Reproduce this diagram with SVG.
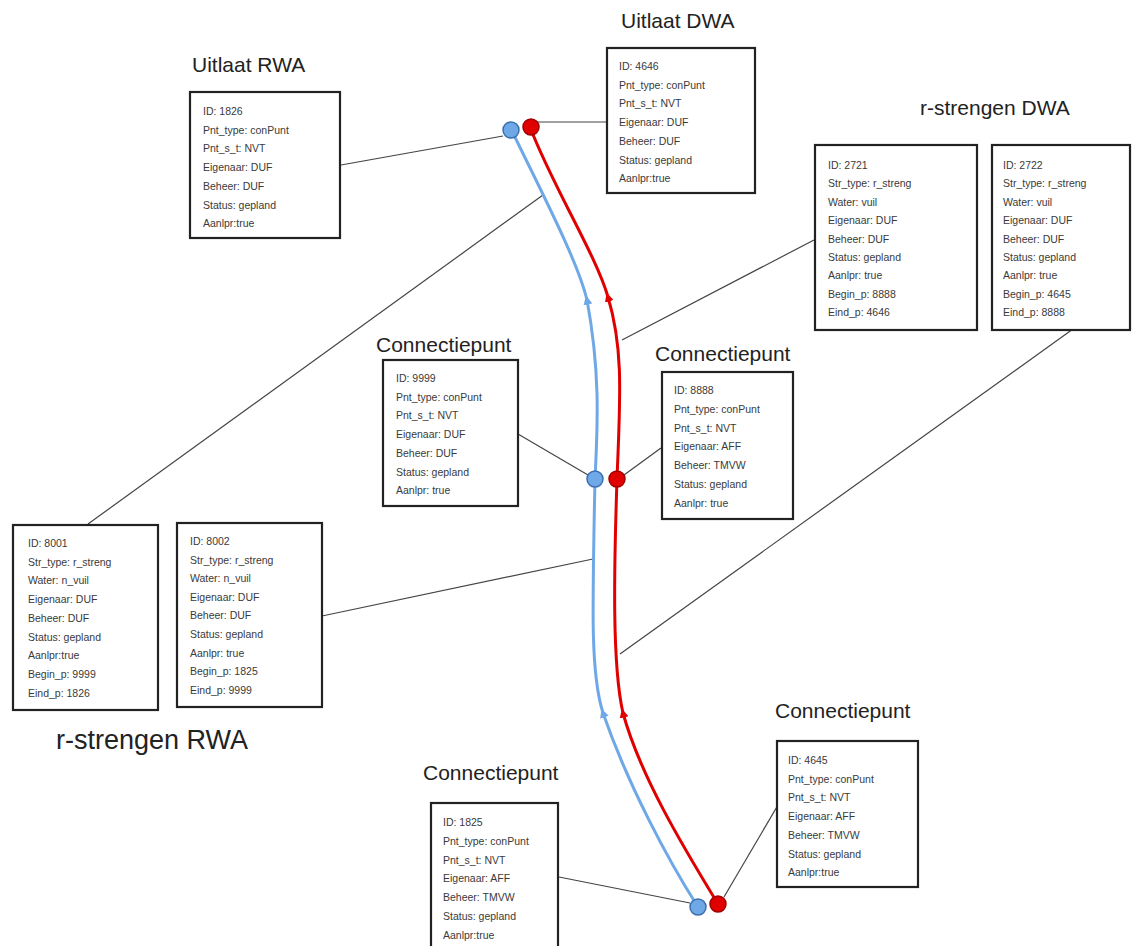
<svg xmlns="http://www.w3.org/2000/svg" width="1137" height="946" viewBox="0 0 1137 946">
<defs>
<style>
.box{fill:#fff;stroke:#222;stroke-width:2.2}
.shadow{fill:none;stroke:#aaa;stroke-width:2}
.t{font-family:"Liberation Sans",Arial,sans-serif;font-size:10.5px;fill:#3a3a3a}
.title{font-family:"Liberation Sans",Arial,sans-serif;font-size:21px;fill:#222}
.big{font-family:"Liberation Sans",Arial,sans-serif;font-size:27px;fill:#222}
.conn{stroke:#444;stroke-width:1.2;fill:none}
.blue{stroke:#6fa8e6;stroke-width:3;fill:none;marker-mid:url(#ab)}
.red{stroke:#e00000;stroke-width:3;fill:none;marker-mid:url(#ar)}
.bdot{fill:#6fa8e6;stroke:#3b6fb0;stroke-width:1.5}
.rdot{fill:#e00000;stroke:#a00000;stroke-width:1.5}
</style>
<marker id="ab" viewBox="0 0 10 10" refX="5" refY="5" markerWidth="9" markerHeight="9" markerUnits="userSpaceOnUse" orient="auto"><path d="M0,0 L10,5 L0,10 z" fill="#6fa8e6"/></marker>
<marker id="ar" viewBox="0 0 10 10" refX="5" refY="5" markerWidth="9" markerHeight="9" markerUnits="userSpaceOnUse" orient="auto"><path d="M0,0 L10,5 L0,10 z" fill="#e00000"/></marker>
</defs>
<rect width="1137" height="946" fill="#fff"/>

<g id="connectors">
<line class="conn" x1="341" y1="165" x2="503" y2="136"/>
<line class="conn" x1="537" y1="122" x2="607" y2="122"/>
<line class="conn" x1="88" y1="524" x2="543" y2="195"/>
<line class="conn" x1="814" y1="240" x2="622" y2="340"/>
<line class="conn" x1="518" y1="434" x2="588" y2="475"/>
<line class="conn" x1="661" y1="448" x2="624" y2="475"/>
<line class="conn" x1="322" y1="616" x2="593" y2="559"/>
<line class="conn" x1="1073" y1="329" x2="620" y2="654"/>
<line class="conn" x1="559" y1="877" x2="690" y2="903"/>
<line class="conn" x1="778" y1="805" x2="724" y2="897"/>
<path class="blue" d="M698,907 C668,860 628,785 603,713 C591,675 592,620 595,479"/>
<path class="blue" d="M595,479 C598,420 600,370 587,300 C578,262 543,195 511,129"/>
<path class="red" d="M718,904 C682,845 640,775 623,713 C612,665 614,570 617,479"/>
<path class="red" d="M617,479 C620,400 624,350 608,297 C596,255 552,185 530,127"/>
</g>

<g id="dots">
<circle class="bdot" cx="511" cy="130" r="8"/>
<circle class="rdot" cx="531" cy="127" r="8"/>
<circle class="bdot" cx="595" cy="479" r="8"/>
<circle class="rdot" cx="617" cy="479" r="8"/>
<circle class="bdot" cx="698" cy="907" r="8"/>
<circle class="rdot" cx="718" cy="904" r="8"/>
</g>

<g id="label-uitlaat-rwa"><text class="title" x="192" y="72">Uitlaat RWA</text></g>
<g id="label-uitlaat-dwa"><text class="title" x="621" y="28">Uitlaat DWA</text></g>
<g id="label-rstrengen-dwa"><text class="title" x="920" y="115">r-strengen DWA</text></g>
<g id="label-cp-9999"><text class="title" x="376" y="352">Connectiepunt</text></g>
<g id="label-cp-8888"><text class="title" x="655" y="361">Connectiepunt</text></g>
<g id="label-cp-4645"><text class="title" x="775" y="718">Connectiepunt</text></g>
<g id="label-cp-1825"><text class="title" x="423" y="780">Connectiepunt</text></g>
<g id="label-rstrengen-rwa"><text class="big" x="56" y="749">r-strengen RWA</text></g>

<g id="node-1826">
<rect class="box" x="190" y="92" width="150" height="146"/>
<text class="t" x="203" y="115"><tspan x="203">ID: 1826</tspan><tspan x="203" dy="18.7">Pnt_type: conPunt</tspan><tspan x="203" dy="18.7">Pnt_s_t: NVT</tspan><tspan x="203" dy="18.7">Eigenaar: DUF</tspan><tspan x="203" dy="18.7">Beheer: DUF</tspan><tspan x="203" dy="18.7">Status: gepland</tspan><tspan x="203" dy="18.7">Aanlpr:true</tspan></text>
</g>

<g id="node-4646">
<rect class="box" x="607" y="48" width="148" height="145"/>
<text class="t" x="619" y="70"><tspan x="619">ID: 4646</tspan><tspan x="619" dy="18.7">Pnt_type: conPunt</tspan><tspan x="619" dy="18.7">Pnt_s_t: NVT</tspan><tspan x="619" dy="18.7">Eigenaar: DUF</tspan><tspan x="619" dy="18.7">Beheer: DUF</tspan><tspan x="619" dy="18.7">Status: gepland</tspan><tspan x="619" dy="18.7">Aanlpr:true</tspan></text>
</g>

<g id="node-2721">
<rect class="box" x="815" y="145" width="162" height="185"/>
<text class="t" x="828" y="169"><tspan x="828">ID: 2721</tspan><tspan x="828" dy="18.4">Str_type: r_streng</tspan><tspan x="828" dy="18.4">Water: vuil</tspan><tspan x="828" dy="18.4">Eigenaar: DUF</tspan><tspan x="828" dy="18.4">Beheer: DUF</tspan><tspan x="828" dy="18.4">Status: gepland</tspan><tspan x="828" dy="18.4">Aanlpr: true</tspan><tspan x="828" dy="18.4">Begin_p: 8888</tspan><tspan x="828" dy="18.4">Eind_p: 4646</tspan></text>
</g>

<g id="node-2722">
<rect class="box" x="992" y="145" width="138" height="185"/>
<text class="t" x="1003" y="169"><tspan x="1003">ID: 2722</tspan><tspan x="1003" dy="18.4">Str_type: r_streng</tspan><tspan x="1003" dy="18.4">Water: vuil</tspan><tspan x="1003" dy="18.4">Eigenaar: DUF</tspan><tspan x="1003" dy="18.4">Beheer: DUF</tspan><tspan x="1003" dy="18.4">Status: gepland</tspan><tspan x="1003" dy="18.4">Aanlpr: true</tspan><tspan x="1003" dy="18.4">Begin_p: 4645</tspan><tspan x="1003" dy="18.4">Eind_p: 8888</tspan></text>
</g>

<g id="node-9999">
<rect class="box" x="383" y="360" width="135" height="146"/>
<text class="t" x="396" y="382"><tspan x="396">ID: 9999</tspan><tspan x="396" dy="18.7">Pnt_type: conPunt</tspan><tspan x="396" dy="18.7">Pnt_s_t: NVT</tspan><tspan x="396" dy="18.7">Eigenaar: DUF</tspan><tspan x="396" dy="18.7">Beheer: DUF</tspan><tspan x="396" dy="18.7">Status: gepland</tspan><tspan x="396" dy="18.7">Aanlpr: true</tspan></text>
</g>

<g id="node-8888">
<rect class="box" x="662" y="372" width="131" height="147"/>
<text class="t" x="674" y="394"><tspan x="674">ID: 8888</tspan><tspan x="674" dy="18.8">Pnt_type: conPunt</tspan><tspan x="674" dy="18.8">Pnt_s_t: NVT</tspan><tspan x="674" dy="18.8">Eigenaar: AFF</tspan><tspan x="674" dy="18.8">Beheer: TMVW</tspan><tspan x="674" dy="18.8">Status: gepland</tspan><tspan x="674" dy="18.8">Aanlpr: true</tspan></text>
</g>

<g id="node-8001">
<rect class="box" x="13" y="525" width="145" height="185"/>
<text class="t" x="28" y="547"><tspan x="28">ID: 8001</tspan><tspan x="28" dy="18.7">Str_type: r_streng</tspan><tspan x="28" dy="18.7">Water: n_vuil</tspan><tspan x="28" dy="18.7">Eigenaar: DUF</tspan><tspan x="28" dy="18.7">Beheer: DUF</tspan><tspan x="28" dy="18.7">Status: gepland</tspan><tspan x="28" dy="18.7">Aanlpr:true</tspan><tspan x="28" dy="18.7">Begin_p: 9999</tspan><tspan x="28" dy="18.7">Eind_p: 1826</tspan></text>
</g>

<g id="node-8002">
<rect class="box" x="177" y="523" width="145" height="184"/>
<text class="t" x="190" y="545"><tspan x="190">ID: 8002</tspan><tspan x="190" dy="18.6">Str_type: r_streng</tspan><tspan x="190" dy="18.6">Water: n_vuil</tspan><tspan x="190" dy="18.6">Eigenaar: DUF</tspan><tspan x="190" dy="18.6">Beheer: DUF</tspan><tspan x="190" dy="18.6">Status: gepland</tspan><tspan x="190" dy="18.6">Aanlpr: true</tspan><tspan x="190" dy="18.6">Begin_p: 1825</tspan><tspan x="190" dy="18.6">Eind_p: 9999</tspan></text>
</g>

<g id="node-1825">
<rect class="box" x="431" y="803" width="127" height="150"/>
<text class="t" x="443" y="826"><tspan x="443">ID: 1825</tspan><tspan x="443" dy="18.8">Pnt_type: conPunt</tspan><tspan x="443" dy="18.8">Pnt_s_t: NVT</tspan><tspan x="443" dy="18.8">Eigenaar: AFF</tspan><tspan x="443" dy="18.8">Beheer: TMVW</tspan><tspan x="443" dy="18.8">Status: gepland</tspan><tspan x="443" dy="18.8">Aanlpr:true</tspan></text>
</g>

<g id="node-4645">
<rect class="box" x="777" y="741" width="141" height="146"/>
<text class="t" x="788" y="764"><tspan x="788">ID: 4645</tspan><tspan x="788" dy="18.7">Pnt_type: conPunt</tspan><tspan x="788" dy="18.7">Pnt_s_t: NVT</tspan><tspan x="788" dy="18.7">Eigenaar: AFF</tspan><tspan x="788" dy="18.7">Beheer: TMVW</tspan><tspan x="788" dy="18.7">Status: gepland</tspan><tspan x="788" dy="18.7">Aanlpr:true</tspan></text>
</g>
</svg>
